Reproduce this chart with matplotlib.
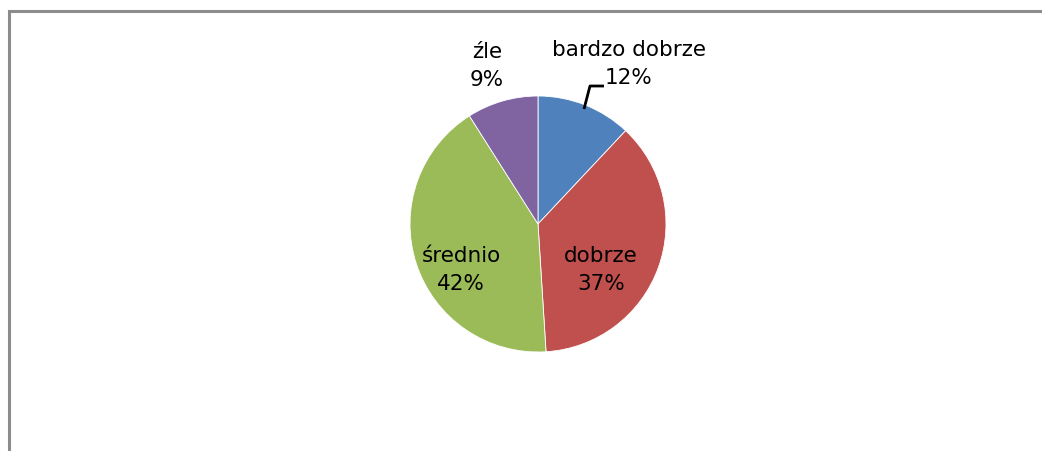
import matplotlib.pyplot as plt
from matplotlib.patches import Rectangle

# dane wykresu
categories = ['bardzo dobrze', 'dobrze', 'średnio', 'źle']
values = [12, 37, 42, 9]
colors = ['#4F81BD', '#C0504D', '#9BBB59', '#8064A2']

W, H = 1042, 452
fig = plt.figure(figsize=(W / 100, H / 100), dpi=100)
ax = fig.add_axes([0, 0, 1, 1])

# kolo (os y odwrocona, wiec counterclock=True daje kierunek zgodny z zegarem)
wedges, _ = ax.pie(values, colors=colors, center=(538, 225), radius=128,
                   startangle=-90, counterclock=True,
                   wedgeprops=dict(edgecolor='white', linewidth=0.6))
ax.set_xlim(0, W)
ax.set_ylim(H, 0)
ax.set_aspect('equal')
ax.axis('off')

# ramka wykresu (ucieta z prawej i z dolu)
fig.patches.append(Rectangle((9 / W, -0.1), 1.2, (H - 12) / H + 0.1,
                             transform=fig.transFigure, fill=False,
                             edgecolor='#8C8C8C', lw=2.2))

# etykiety
fs = 15.5
labels_txt = [f'{c}\n{v}%' for c, v in zip(categories, values)]
label_pos = [(629, 64), (601, 270), (461, 270), (487, 66)]
for t, (x, y) in zip(labels_txt, label_pos):
    ax.text(x, y, t, ha='center', va='center', fontsize=fs,
            linespacing=1.45, family='DejaVu Sans', zorder=5)

# linia odniesienia
ax.plot([584, 590, 604], [110, 87, 87], color='black', lw=2,
        solid_capstyle='butt', zorder=5)

fig.savefig('out.png', dpi=100)
